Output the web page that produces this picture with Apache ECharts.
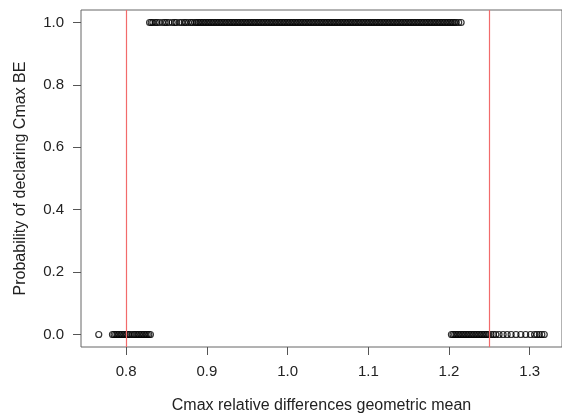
<!DOCTYPE html>
<html lang="en">
<head>
<meta charset="UTF-8">
<title>Cmax BE</title>
<script src="https://cdn.jsdelivr.net/npm/echarts@6/dist/echarts.min.js"></script>
<style>
  html, body { margin: 0; padding: 0; background: #fff; }
  #chart { width: 562px; height: 419px; }
</style>
</head>
<body>
<div id="chart"></div>
<script>
// x values, grouped by outcome (0 = not BE, 1 = BE)
var declaredBE = [0.829, 0.831, 0.833, 0.836, 0.838, 0.841, 0.845, 0.848, 0.850, 0.853, 0.857, 0.860,
  0.862, 0.866, 0.869, 0.872, 0.874, 0.877, 0.880, 0.882, 0.885, 0.887,
  0.889, 0.891, 0.893, 0.895, 0.897, 0.899, 0.901, 0.903, 0.905, 0.907, 0.909, 0.911, 0.913, 0.915,
  0.917, 0.919, 0.921, 0.923, 0.925, 0.927, 0.929, 0.931, 0.933, 0.935, 0.937, 0.939, 0.941, 0.943,
  0.945, 0.947, 0.949, 0.951, 0.953, 0.955, 0.957, 0.959, 0.961, 0.963, 0.965, 0.967, 0.969, 0.971,
  0.973, 0.975, 0.977, 0.979, 0.981, 0.983, 0.985, 0.987, 0.989, 0.991, 0.993, 0.995, 0.997, 0.999,
  1.001, 1.003, 1.005, 1.007, 1.009, 1.011, 1.013, 1.015, 1.017, 1.019, 1.021, 1.023, 1.025, 1.027,
  1.029, 1.031, 1.033, 1.035, 1.037, 1.039, 1.041, 1.043, 1.045, 1.047, 1.049, 1.051, 1.053, 1.055,
  1.057, 1.059, 1.061, 1.063, 1.065, 1.067, 1.069, 1.071, 1.073, 1.075, 1.077, 1.079, 1.081, 1.083,
  1.085, 1.087, 1.089, 1.091, 1.093, 1.095, 1.097, 1.099, 1.101, 1.103, 1.105, 1.107, 1.109, 1.111,
  1.113, 1.115, 1.117, 1.119, 1.121, 1.123, 1.125, 1.127, 1.129, 1.131, 1.133, 1.135, 1.137, 1.139,
  1.141, 1.143, 1.145, 1.147, 1.149, 1.151, 1.153, 1.155, 1.157, 1.159, 1.161, 1.163, 1.165, 1.167,
  1.169, 1.171, 1.173, 1.175, 1.177, 1.179, 1.181, 1.183, 1.185, 1.187, 1.189, 1.191, 1.193, 1.195,
  1.197, 1.199, 1.201, 1.203, 1.205, 1.207, 1.209, 1.212, 1.215];
var failLow = [0.766, 0.783, 0.785, 0.787, 0.789, 0.791, 0.793, 0.795, 0.797, 0.799, 0.801, 0.803,
  0.805, 0.808, 0.810, 0.812, 0.814, 0.816, 0.818, 0.820, 0.822, 0.824, 0.826, 0.828, 0.830];
var failHigh = [1.203, 1.205, 1.207, 1.209, 1.211, 1.213, 1.215, 1.217, 1.219, 1.221, 1.223, 1.225,
  1.227, 1.229, 1.231, 1.233, 1.235, 1.237, 1.239, 1.241, 1.243, 1.245, 1.247, 1.249, 1.252, 1.255,
  1.258, 1.262, 1.267, 1.272, 1.277, 1.283, 1.289, 1.295, 1.301, 1.306, 1.309, 1.312, 1.315, 1.318];
var beLimits = [0.8, 1.25];
var xTicks = [0.8, 0.9, 1.0, 1.1, 1.2, 1.3];
var yTicks = [0, 0.2, 0.4, 0.6, 0.8, 1.0];

function toPoints(xs, y) {
  return xs.map(function (x) { return [x, y]; });
}

var font = 'Liberation Sans, Arial, sans-serif';
var pointStyle = { color: 'rgba(0,0,0,0)', borderColor: '#000', borderWidth: 1.2 };

var chart = echarts.init(document.getElementById('chart'));
chart.setOption({
  animation: false,
  grid: { left: 81, right: -12, top: 10, bottom: 70, show: true, borderColor: '#666', borderWidth: 1 },
  xAxis: {
    type: 'value', min: 0.744, max: 1.34,
    name: 'Cmax relative differences geometric mean', nameLocation: 'middle', nameGap: 51,
    nameTextStyle: { fontFamily: font, fontSize: 16, color: '#222' },
    axisLine: { show: false, onZero: false },
    splitLine: { show: false },
    axisTick: { show: true, length: 8, customValues: xTicks, lineStyle: { color: '#555' } },
    axisLabel: { customValues: xTicks, margin: 17, fontFamily: font, fontSize: 15, color: '#222',
      formatter: function (v) { return v.toFixed(1); } }
  },
  yAxis: {
    type: 'value', min: -0.04, max: 1.04,
    name: 'Probability of declaring Cmax BE', nameLocation: 'middle', nameGap: 52,
    nameTextStyle: { fontFamily: font, fontSize: 16, color: '#222' },
    axisLine: { show: false, onZero: false },
    splitLine: { show: false },
    axisTick: { show: true, length: 8, customValues: yTicks, lineStyle: { color: '#555' } },
    axisLabel: { customValues: yTicks, margin: 17, fontFamily: font, fontSize: 15, color: '#222',
      formatter: function (v) { return v.toFixed(1); } }
  },
  series: [
    { type: 'scatter', symbol: 'circle', symbolSize: 6, itemStyle: pointStyle,
      data: toPoints(declaredBE, 1),
      markLine: {
        silent: true, symbol: 'none', label: { show: false },
        lineStyle: { color: '#f26b6b', width: 1.2, type: 'solid' },
        data: beLimits.map(function (v) { return { xAxis: v }; })
      } },
    { type: 'scatter', symbol: 'circle', symbolSize: 6, itemStyle: pointStyle, data: toPoints(failLow, 0) },
    { type: 'scatter', symbol: 'circle', symbolSize: 6, itemStyle: pointStyle, data: toPoints(failHigh, 0) }
  ]
});
</script>
</body>
</html>
